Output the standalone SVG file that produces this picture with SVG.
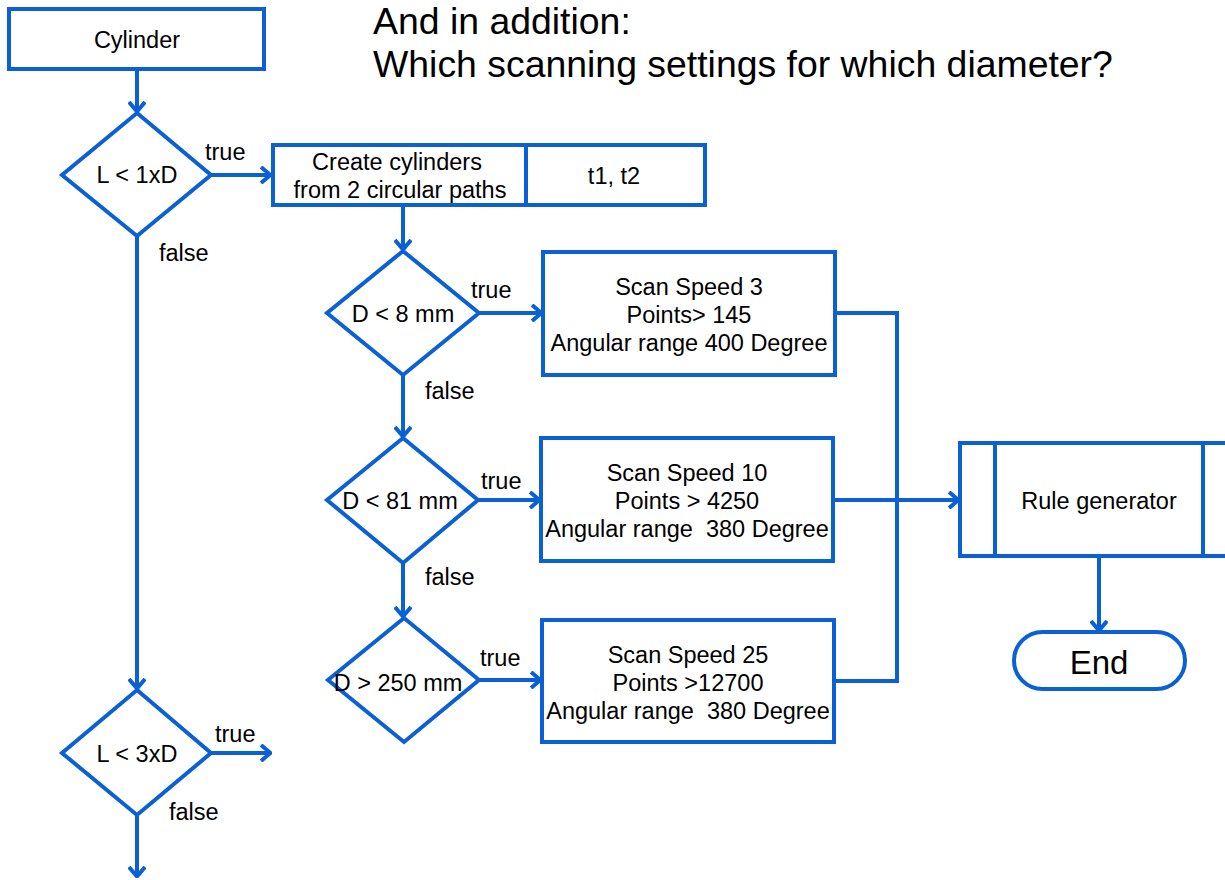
<svg xmlns="http://www.w3.org/2000/svg" width="1225" height="880" viewBox="0 0 1225 880">
<defs>
<style>
.n{fill:#fff;stroke:#0B60D4;stroke-width:4}
.c{fill:none;stroke:#0B60D4;stroke-width:4}
text{font-family:"Liberation Sans",Arial,sans-serif;fill:#000}
.t{font-size:23.5px;text-anchor:middle}
.l{font-size:23.5px}
.h{font-size:37.4px}
</style>
<marker id="ar" viewBox="0 0 12 18" refX="11" refY="9" markerWidth="12" markerHeight="18" markerUnits="userSpaceOnUse" orient="auto">
<path d="M1,1 L10.5,9 L1,17" fill="none" stroke="#0B60D4" stroke-width="4" stroke-linejoin="miter"/>
</marker>
</defs>
<rect width="1225" height="880" fill="#fff"/>
<g id="title">
<text class="h" x="373" y="34">And in addition:</text>
<text class="h" x="373" y="77">Which scanning settings for which diameter?</text>
</g>
<g id="connectors">
<path class="c" d="M137,69 V112" marker-end="url(#ar)"/>
<path class="c" d="M211,175 H271" marker-end="url(#ar)"/>
<path class="c" d="M137,236 V689" marker-end="url(#ar)"/>
<path class="c" d="M211,753 H271" marker-end="url(#ar)"/>
<path class="c" d="M137,815 V877" marker-end="url(#ar)"/>
<path class="c" d="M403,205 V250" marker-end="url(#ar)"/>
<path class="c" d="M479,313 H542" marker-end="url(#ar)"/>
<path class="c" d="M403,375 V437" marker-end="url(#ar)"/>
<path class="c" d="M478,500 H540" marker-end="url(#ar)"/>
<path class="c" d="M403,563 V617" marker-end="url(#ar)"/>
<path class="c" d="M479,680 H541" marker-end="url(#ar)"/>
<path class="c" d="M835,313 H897 V681 H834"/>
<path class="c" d="M833,500 H959" marker-end="url(#ar)"/>
<path class="c" d="M1099,556 V631" marker-end="url(#ar)"/>
</g>
<g id="cylinder">
<rect class="n" x="9" y="9" width="255" height="60"/>
<text class="t" x="137" y="48">Cylinder</text>
</g>
<g id="dec1">
<path class="n" d="M137,113 L211,175 L137,236 L62,175 Z"/>
<text class="t" x="137" y="183">L &lt; 1xD</text>
<text class="l" x="205" y="160">true</text>
<text class="l" x="159" y="261">false</text>
</g>
<g id="create">
<rect class="n" x="273" y="145" width="253" height="60"/>
<text class="t" x="397" y="170">Create cylinders</text>
<text class="t" x="400" y="198">from 2 circular paths</text>
</g>
<g id="t1t2">
<rect class="n" x="526" y="145" width="179" height="60"/>
<text class="t" x="614" y="184">t1, t2</text>
</g>
<g id="dec2">
<path class="n" d="M403,251 L479,313 L403,375 L327,313 Z"/>
<text class="t" x="403" y="322">D &lt; 8 mm</text>
<text class="l" x="471" y="298">true</text>
<text class="l" x="425" y="399">false</text>
</g>
<g id="scan1">
<rect class="n" x="543" y="252" width="292" height="123"/>
<text class="t" x="689" y="295">Scan Speed 3</text>
<text class="t" x="689" y="323">Points&gt; 145</text>
<text class="t" x="689" y="351">Angular range 400 Degree</text>
</g>
<g id="dec3">
<path class="n" d="M403,438 L478,500 L403,563 L327,500 Z"/>
<text class="t" x="400" y="509">D &lt; 81 mm</text>
<text class="l" x="481" y="489">true</text>
<text class="l" x="425" y="585">false</text>
</g>
<g id="scan2">
<rect class="n" x="541" y="438" width="292" height="123"/>
<text class="t" x="687" y="481">Scan Speed 10</text>
<text class="t" x="687" y="509">Points &gt; 4250</text>
<text class="t" x="687" y="537">Angular range &#160;380 Degree</text>
</g>
<g id="dec4">
<path class="n" d="M404,618 L479,680 L404,742 L328,680 Z"/>
<text class="t" x="398" y="691">D &gt; 250 mm</text>
<text class="l" x="480" y="666">true</text>
</g>
<g id="scan3">
<rect class="n" x="542" y="620" width="292" height="122"/>
<text class="t" x="688" y="663">Scan Speed 25</text>
<text class="t" x="688" y="691">Points &gt;12700</text>
<text class="t" x="688" y="719">Angular range &#160;380 Degree</text>
</g>
<g id="rulegen">
<rect class="n" x="960" y="443" width="270" height="113"/>
<path class="c" d="M995,443 V556 M1203,443 V556"/>
<text class="t" x="1099" y="509">Rule generator</text>
</g>
<g id="end">
<rect class="n" x="1014" y="632" width="171" height="57" rx="28.5"/>
<text class="t" x="1099" y="674" style="font-size:33px">End</text>
</g>
<g id="dec5">
<path class="n" d="M137,690 L211,753 L137,815 L62,753 Z"/>
<text class="t" x="137" y="762">L &lt; 3xD</text>
<text class="l" x="215" y="742">true</text>
<text class="l" x="169" y="820">false</text>
</g>
</svg>
